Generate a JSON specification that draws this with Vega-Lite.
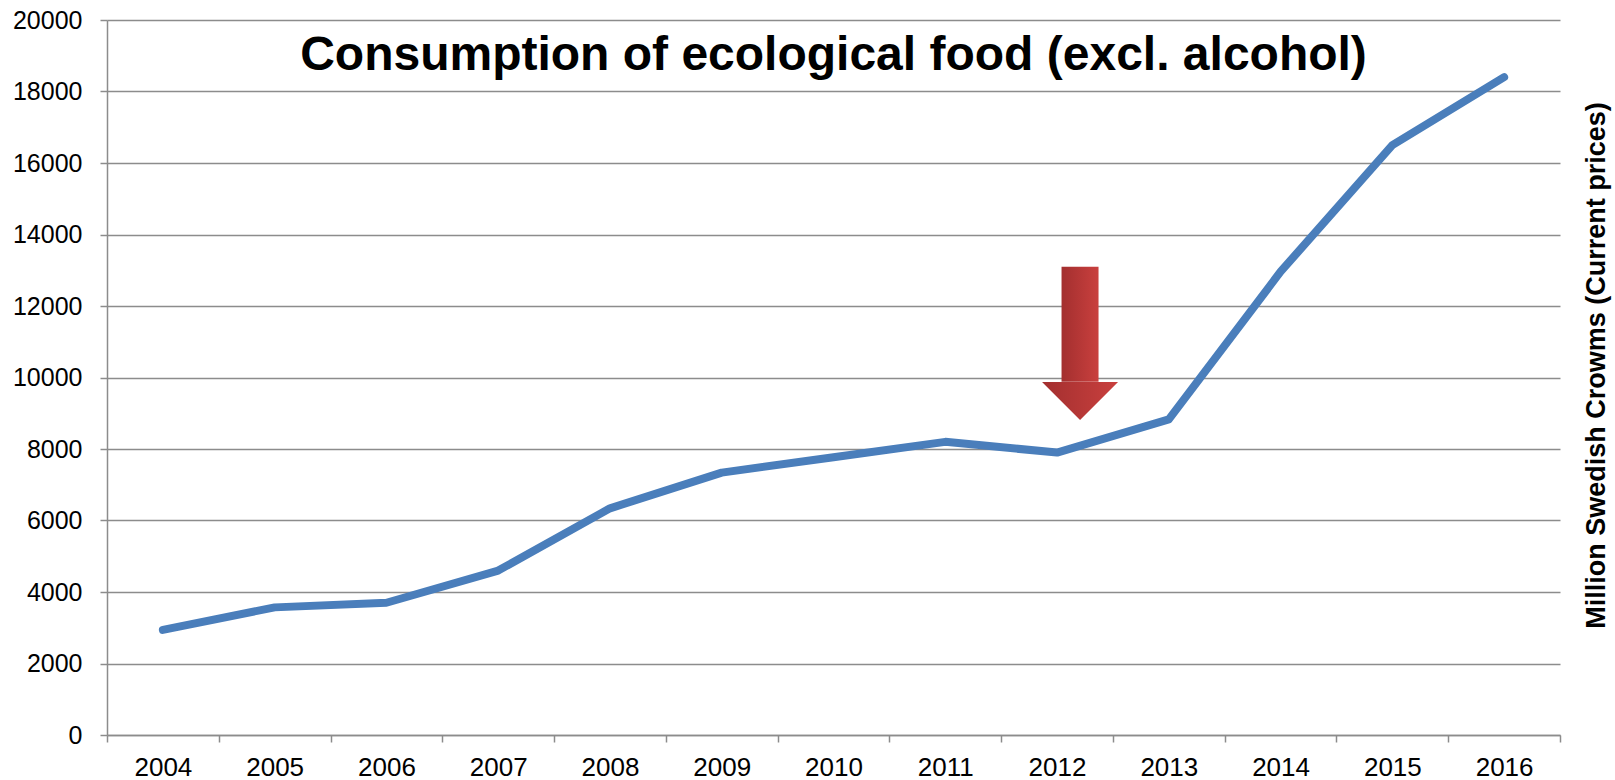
{
  "$schema": "https://vega.github.io/schema/vega-lite/v6.json",
  "width": 1453,
  "height": 715,
  "autosize": {"type": "none"},
  "padding": {"left": 107, "top": 20, "right": 55, "bottom": 45},
  "background": "white",
  "title": {
    "text": "Consumption of ecological food (excl. alcohol)",
    "font": "Liberation Sans",
    "fontSize": 48,
    "fontWeight": "bold",
    "color": "#000000",
    "anchor": "middle",
    "baseline": "alphabetic",
    "offset": -50,
    "dy": 60
  },
  "config": {
    "view": {"stroke": null},
    "axis": {
      "labelFont": "Liberation Sans",
      "titleFont": "Liberation Sans",
      "labelColor": "#000000",
      "titleColor": "#000000",
      "domainColor": "#8c8c8c",
      "domainWidth": 1.5,
      "tickColor": "#8c8c8c",
      "tickWidth": 1.5,
      "gridColor": "#8c8c8c",
      "gridWidth": 1.5
    }
  },
  "encoding": {
    "x": {
      "field": "year",
      "type": "ordinal",
      "scale": {"type": "band", "paddingInner": 0, "paddingOuter": 0},
      "axis": {
        "title": null,
        "labelAngle": 0,
        "labelFontSize": 26,
        "labelPadding": 12,
        "tickSize": 7,
        "tickBand": "extent",
        "grid": false
      }
    }
  },
  "layer": [
    {
      "data": {
        "values": [
          {"year": "2004", "value": 2940},
          {"year": "2005", "value": 3570},
          {"year": "2006", "value": 3700},
          {"year": "2007", "value": 4600},
          {"year": "2008", "value": 6340},
          {"year": "2009", "value": 7340},
          {"year": "2010", "value": 7770},
          {"year": "2011", "value": 8200},
          {"year": "2012", "value": 7900},
          {"year": "2013", "value": 8830},
          {"year": "2014", "value": 12960},
          {"year": "2015", "value": 16500},
          {"year": "2016", "value": 18400}
        ]
      },
      "mark": {"type": "line", "color": "#4a7ebb", "strokeWidth": 8, "strokeCap": "round", "strokeJoin": "round"},
      "encoding": {
        "y": {
          "field": "value",
          "type": "quantitative",
          "scale": {"domain": [0, 20000], "nice": false},
          "axis": {
            "orient": "left",
            "title": null,
            "values": [0, 2000, 4000, 6000, 8000, 10000, 12000, 14000, 16000, 18000, 20000],
            "format": "d",
            "labelFontSize": 25,
            "labelPadding": 18,
            "tickSize": 7,
            "grid": true
          }
        }
      }
    },
    {
      "data": {"values": [{"year": "2012", "top": 13100, "base": 9880}]},
      "mark": {
        "type": "bar",
        "width": 37,
        "xOffset": 23,
        "fill": {
          "gradient": "linear",
          "x1": 0, "y1": 0, "x2": 1, "y2": 0,
          "stops": [{"offset": 0, "color": "#a32f2f"}, {"offset": 1, "color": "#c9403e"}]
        }
      },
      "encoding": {
        "y": {
          "field": "top",
          "type": "quantitative",
          "scale": {"domain": [0, 20000], "nice": false},
          "axis": {
            "orient": "right",
            "title": "Million Swedish Crowms (Current prices)",
            "titleFontSize": 27,
            "titleFontWeight": "bold",
            "titleAngle": -90,
            "titlePadding": 50,
            "titleY": 345,
            "labels": false,
            "ticks": false,
            "domain": false,
            "grid": false
          }
        },
        "y2": {"field": "base"}
      }
    },
    {
      "data": {"values": [{"year": "2012", "head": 9340}]},
      "mark": {
        "type": "point",
        "filled": true,
        "opacity": 1,
        "size": 5776,
        "xOffset": 23,
        "shape": "M-1,-0.5L1,-0.5L0,0.5Z",
        "fill": {
          "gradient": "linear",
          "x1": 0, "y1": 0, "x2": 1, "y2": 0,
          "stops": [{"offset": 0, "color": "#a32f2f"}, {"offset": 1, "color": "#c9403e"}]
        }
      },
      "encoding": {
        "y": {
          "field": "head",
          "type": "quantitative",
          "scale": {"domain": [0, 20000], "nice": false},
          "axis": null
        }
      }
    }
  ],
  "resolve": {"axis": {"y": "independent"}}
}
